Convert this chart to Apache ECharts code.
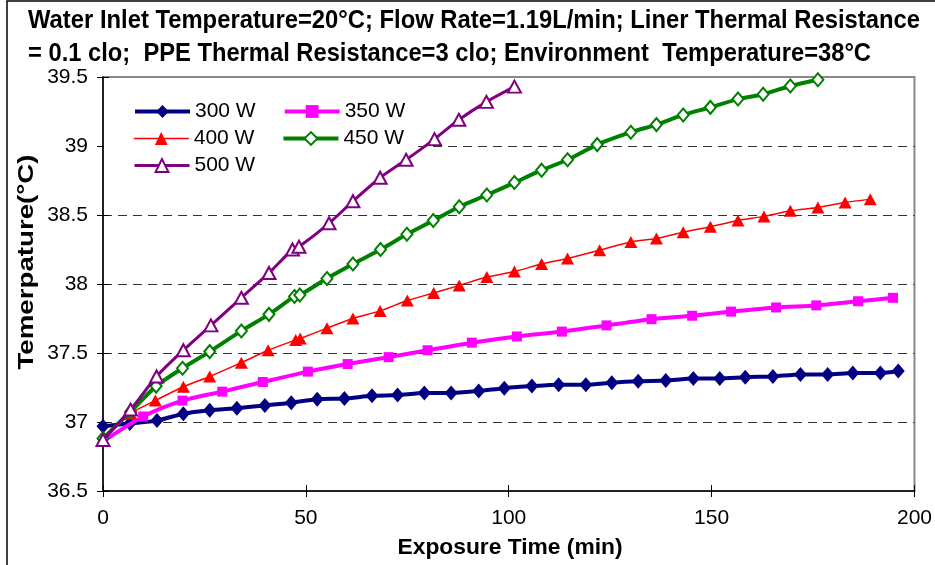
<!DOCTYPE html>
<html>
<head>
<meta charset="utf-8">
<script src="https://cdn.jsdelivr.net/npm/echarts@6/dist/echarts.min.js"></script>
<style>html,body{margin:0;padding:0;background:#fff;}#c{width:935px;height:565px;}</style>
</head>
<body>
<div id="c"></div>
<script>
// ---- data ----
const titleLines = ['Water Inlet Temperature=20°C; Flow Rate=1.19L/min; Liner Thermal Resistance',
                    '= 0.1 clo;  PPE Thermal Resistance=3 clo; Environment  Temperature=38°C'];
const xName = 'Exposure Time (min)';
const yName = 'Temerpature(°C)';
const seriesNames = ['300 W', '350 W', '400 W', '450 W', '500 W'];
const yTicks = [36.5, 37, 37.5, 38, 38.5, 39, 39.5];
const xTicks = [0, 50, 100, 150, 200];

const t300 = [0,6.6,13.3,19.8,26.3,33.0,39.9,46.4,52.8,59.5,66.3,72.6,79.2,85.8,92.6,98.9,105.7,112.3,119.0,125.4,131.9,138.7,145.5,152.0,158.3,165.1,171.9,178.6,184.8,191.6,196.0];
const v300 = [36.97,36.99,37.01,37.06,37.085,37.10,37.12,37.14,37.165,37.17,37.19,37.195,37.21,37.21,37.225,37.245,37.26,37.27,37.27,37.285,37.295,37.30,37.315,37.315,37.325,37.33,37.345,37.345,37.355,37.355,37.37];

const t350 = [0,9.9,19.6,29.4,39.4,50.5,60.3,70.4,80.0,90.9,102.0,113.1,124.1,135.2,145.2,154.8,165.9,175.8,186.1,194.7];
const v350 = [36.86,37.04,37.155,37.22,37.29,37.365,37.42,37.47,37.52,37.575,37.62,37.655,37.70,37.745,37.77,37.80,37.83,37.845,37.875,37.90];

const t400 = [0,6.8,12.9,19.8,26.3,34.1,40.7,47.5,48.6,55.2,61.6,68.3,75.0,81.5,87.8,94.6,101.4,108.1,114.5,122.4,130.1,136.4,143.0,149.7,156.5,162.9,169.4,176.2,182.9,189.1];
const v400 = [36.87,37.06,37.155,37.255,37.33,37.43,37.52,37.595,37.605,37.68,37.75,37.805,37.88,37.935,37.99,38.05,38.09,38.145,38.185,38.245,38.305,38.33,38.375,38.415,38.46,38.49,38.53,38.555,38.59,38.615];

const t450 = [0,6.8,13.1,19.6,26.3,34.1,40.9,47.2,48.5,55.2,61.6,68.4,74.9,81.4,87.8,94.6,101.4,108.1,114.5,121.8,130.1,136.4,143.0,149.7,156.5,162.7,169.4,176.2];
const v450 = [36.88,37.075,37.26,37.39,37.51,37.66,37.78,37.91,37.92,38.04,38.145,38.25,38.36,38.46,38.56,38.645,38.735,38.825,38.90,39.01,39.10,39.155,39.225,39.28,39.34,39.375,39.435,39.48];

const t500 = [0,6.8,13.2,19.8,26.6,34.1,40.9,46.7,48.3,55.7,61.6,68.3,74.7,81.7,87.7,94.5,101.4];
const v500 = [36.87,37.09,37.33,37.52,37.70,37.90,38.08,38.25,38.27,38.44,38.60,38.77,38.90,39.05,39.19,39.32,39.43];

// ---- helpers ----
const FONT = '"Liberation Sans", Arial, sans-serif';
const pair = (t, v) => t.map((x, i) => [x, v[i]]);
const cv = document.createElement('canvas').getContext('2d');
function fitScale(text, font, target) { cv.font = font; return target / cv.measureText(text).width; }

const titleFont = 'bold 25px ' + FONT;
const nameFont = 'bold 22px ' + FONT;

const chart = echarts.init(document.getElementById('c'), null, {renderer: 'canvas'});

const styles = [
  {color: '#000080', lw: 4, symbol: 'diamond', size: [13, 15], fill: '#000080', bw: 0},
  {color: '#FF00FF', lw: 4, symbol: 'rect', size: 10, fill: '#FF00FF', bw: 0},
  {color: '#FF0000', lw: 1.5, symbol: 'triangle', size: [13, 12], fill: '#FF0000', bw: 0},
  {color: '#008000', lw: 4, symbol: 'diamond', size: [11, 13], fill: '#ffffff', bw: 2},
  {color: '#800080', lw: 3, symbol: 'triangle', size: [13, 12], fill: '#ffffff', bw: 2}
];
const datas = [pair(t300, v300), pair(t350, v350), pair(t400, v400), pair(t450, v450), pair(t500, v500)];

const series = seriesNames.map((n, i) => ({
  name: n, type: 'line', data: datas[i], xAxisIndex: 0, yAxisIndex: 0,
  smooth: 0.25, showSymbol: true, showAllSymbol: true,
  symbol: styles[i].symbol, symbolSize: styles[i].size,
  lineStyle: {color: styles[i].color, width: styles[i].lw},
  itemStyle: {color: styles[i].fill, borderColor: styles[i].color, borderWidth: styles[i].bw},
  z: 2 + i * 0.1
}));

const legendCommon = {
  left: 133, itemWidth: 55, itemHeight: 16, itemGap: 27, z: 4,
  lineStyle: {width: 'inherit'},
  textStyle: {fontSize: 21, fontFamily: FONT, color: '#000', padding: [0, 0, 0, 0]},
  padding: 0, selectedMode: false
};

const option = {
  animation: false,
  backgroundColor: '#fff',
  grid: {left: 103, top: 77, right: 19, bottom: 74, show: true, borderColor: '#888', borderWidth: 2, backgroundColor: 'transparent'},
  xAxis: [
    {type: 'value', min: xTicks[0], max: xTicks[xTicks.length - 1], interval: 50, position: 'bottom',
     axisLine: {show: true, onZero: false, lineStyle: {color: '#000', width: 1.5}},
     axisTick: {show: true, inside: false, length: 6, lineStyle: {color: '#000', width: 1}},
     axisLabel: {fontSize: 21, fontFamily: FONT, color: '#000', margin: 17},
     splitLine: {show: false}},
    {type: 'value', min: xTicks[0], max: xTicks[xTicks.length - 1], interval: 50, position: 'bottom',
     axisLine: {show: false, onZero: false}, axisTick: {show: true, inside: true, length: 6, lineStyle: {color: '#000', width: 1}},
     axisLabel: {show: false}, splitLine: {show: false}}
  ],
  yAxis: [
    {type: 'value', min: yTicks[0], max: yTicks[yTicks.length - 1], interval: 0.5, position: 'left',
     axisLine: {show: true, onZero: false, lineStyle: {color: '#000', width: 1.5}},
     axisTick: {show: true, inside: false, length: 6, lineStyle: {color: '#000', width: 1}},
     axisLabel: {fontSize: 21, fontFamily: FONT, color: '#000', margin: 15},
     splitLine: {show: true, showMinLine: false, showMaxLine: false, lineStyle: {color: '#333', width: 1, type: [9, 6]}}},
    {type: 'value', min: yTicks[0], max: yTicks[yTicks.length - 1], interval: 0.5, position: 'left',
     axisLine: {show: false, onZero: false}, axisTick: {show: true, inside: true, length: 6, lineStyle: {color: '#000', width: 1}},
     axisLabel: {show: false}, splitLine: {show: false}}
  ],
  legend: [
    Object.assign({}, legendCommon, {top: 101, data: [seriesNames[0], seriesNames[1]]}),
    Object.assign({}, legendCommon, {top: 128, data: [seriesNames[2], seriesNames[3]]}),
    Object.assign({}, legendCommon, {top: 155, data: [seriesNames[4]]})
  ],
  graphic: {elements: [
    {type: 'rect', silent: true, z: 1, shape: {x: 104, y: 92, width: 309, height: 93}, style: {fill: '#fff'}},
    {type: 'rect', silent: true, z: 100, shape: {x: 7, y: 1, width: 960, height: 600}, style: {fill: 'none', stroke: '#000', lineWidth: 1.5}},
    {type: 'text', silent: true, z: 100, x: 28, y: 9, scaleX: fitScale(titleLines[0], titleFont, 892),
     style: {text: titleLines[0], font: titleFont, fill: '#000', align: 'left', verticalAlign: 'top'}},
    {type: 'text', silent: true, z: 100, x: 28, y: 42, scaleX: fitScale(titleLines[1], titleFont, 843),
     style: {text: titleLines[1], font: titleFont, fill: '#000', align: 'left', verticalAlign: 'top'}},
    {type: 'text', silent: true, z: 100, x: 510, y: 548, scaleX: fitScale(xName, nameFont, 225),
     style: {text: xName, font: nameFont, fill: '#000', align: 'center', verticalAlign: 'middle'}},
    {type: 'text', silent: true, z: 100, x: 27, y: 262, rotation: Math.PI / 2, scaleX: fitScale(yName, nameFont, 215),
     style: {text: yName, font: nameFont, fill: '#000', align: 'center', verticalAlign: 'middle'}}
  ]},
  series: series
};
chart.setOption(option);
</script>
</body>
</html>
